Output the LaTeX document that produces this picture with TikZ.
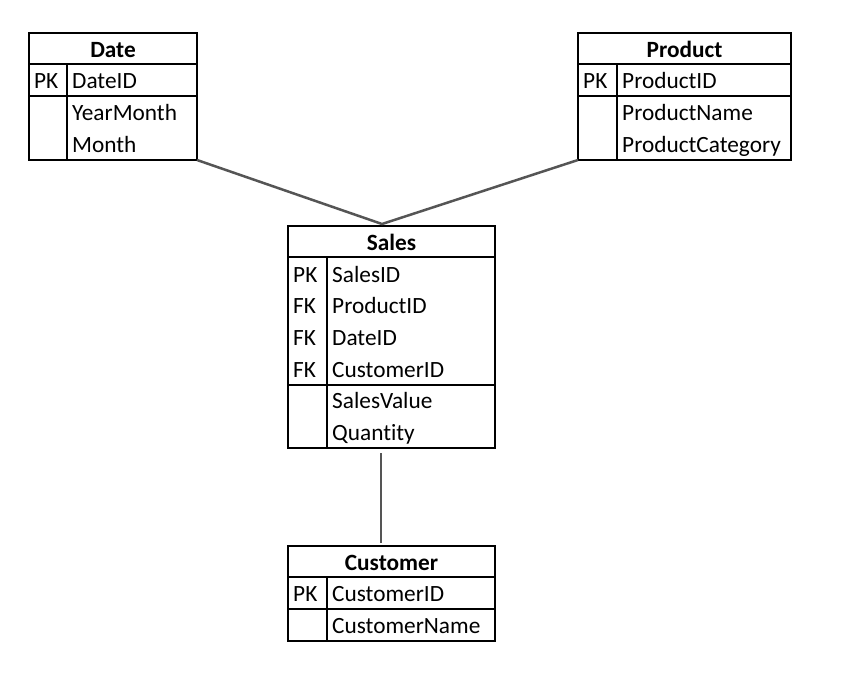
\documentclass[tikz,border=0pt]{standalone}
\usepackage{fontspec}
\setmainfont{Carlito}[Ligatures=NoCommon]
\definecolor{connc}{HTML}{555555}
\begin{document}
\begin{tikzpicture}[x=1pt,y=-1pt,
  tbl/.style={draw=black, line width=2pt, inner sep=0pt, outer sep=0pt, anchor=north west},
  sep/.style={draw=black, line width=2pt},
  fld/.style={anchor=base west, inner sep=0pt, font=\fontsize{23.3}{28}\selectfont},
  hdr/.style={anchor=base, inner sep=0pt, font=\fontsize{23.3}{28}\selectfont\bfseries},
  conn/.style={draw=connc, line width=2.5pt}]
\useasboundingbox (0,0) rectangle (842,698);
\fill[white] (0,0) rectangle (842,698);

% ---------- Date ----------
\node[tbl, minimum width=168pt, minimum height=127pt] (date) at (29,33) {};
\draw[sep] (29,64) -- (197,64);
\draw[sep] (29,96) -- (197,96);
\draw[sep] (67,64) -- (67,160);
\node[hdr] (dateh) at (113,58) {Date};
\node[fld] (datek1) at (34,89) {PK};
\node[fld] (datef1) at (72,89) {DateID};
\node[fld] (datef2) at (72,120.7) {YearMonth};
\node[fld] (datef3) at (72,152.4) {Month};

% ---------- Product ----------
\node[tbl, minimum width=213pt, minimum height=127pt] (product) at (578,33) {};
\draw[sep] (578,64) -- (791,64);
\draw[sep] (578,96) -- (791,96);
\draw[sep] (617,64) -- (617,160);
\node[hdr] (producth) at (684.5,58) {Product};
\node[fld] (productk1) at (583,89) {PK};
\node[fld] (productf1) at (622,89) {ProductID};
\node[fld] (productf2) at (622,120.7) {ProductName};
\node[fld] (productf3) at (622,152.4) {ProductCategory};

% ---------- Sales ----------
\node[tbl, minimum width=207pt, minimum height=222pt] (sales) at (288,226) {};
\draw[sep] (288,257) -- (495,257);
\draw[sep] (288,385) -- (495,385);
\draw[sep] (327,257) -- (327,448);
\node[hdr] (salesh) at (391.5,250) {Sales};
\node[fld] (salesk1) at (293,282) {PK};
\node[fld] (salesk2) at (293,313.7) {FK};
\node[fld] (salesk3) at (293,345.4) {FK};
\node[fld] (salesk4) at (293,377.1) {FK};
\node[fld] (salesf1) at (332,282) {SalesID};
\node[fld] (salesf2) at (332,313.7) {ProductID};
\node[fld] (salesf3) at (332,345.4) {DateID};
\node[fld] (salesf4) at (332,377.1) {CustomerID};
\node[fld] (salesf5) at (332,408.8) {SalesValue};
\node[fld] (salesf6) at (332,440) {Quantity};

% ---------- Customer ----------
\node[tbl, minimum width=207pt, minimum height=95pt] (customer) at (288,546) {};
\draw[sep] (288,577) -- (495,577);
\draw[sep] (288,609) -- (495,609);
\draw[sep] (327,577) -- (327,641);
\node[hdr] (customerh) at (391.5,570) {Customer};
\node[fld] (customerk1) at (293,601.7) {PK};
\node[fld] (customerf1) at (332,601.7) {CustomerID};
\node[fld] (customerf2) at (332,633.3) {CustomerName};

% ---------- Connectors ----------
\coordinate (join) at (382,224);
\draw[conn] (date.south east) -- (join) -- (product.south west);
\draw[conn] ([xshift=-10.5pt,yshift=-5pt]sales.south) -- ([xshift=-10.5pt,yshift=3pt]customer.north);
\end{tikzpicture}
\end{document}
